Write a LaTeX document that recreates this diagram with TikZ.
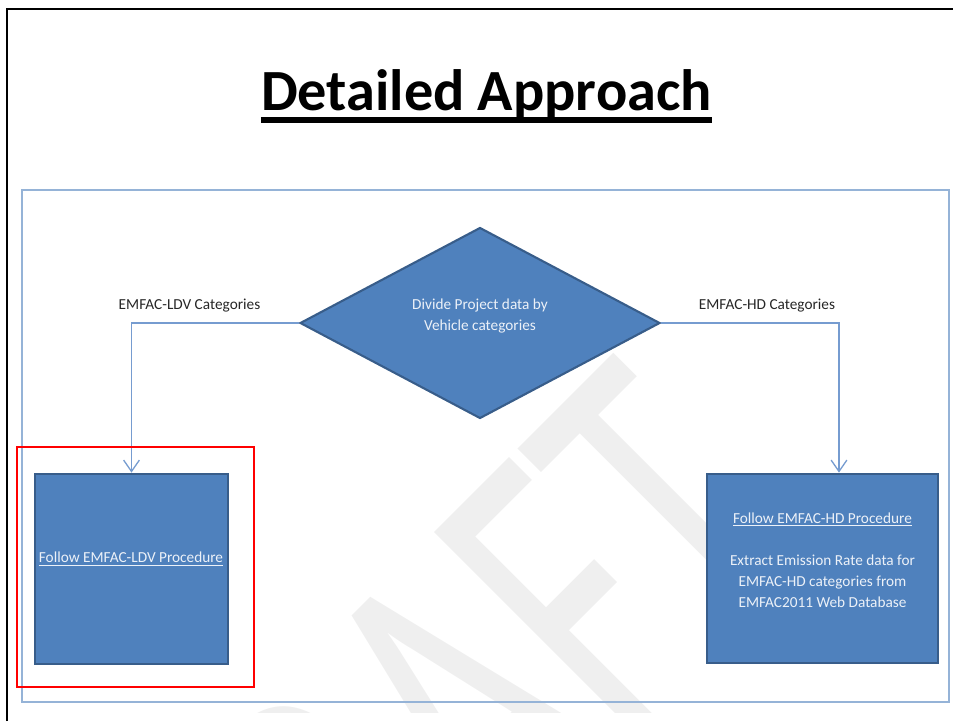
\documentclass[tikz,border=0pt]{standalone}
\usepackage{fontspec}
\setmainfont{Carlito}
\usepackage{tikz}
\usetikzlibrary{shapes.geometric,arrows.meta}

\definecolor{boxblue}{RGB}{79,129,189}
\definecolor{boxedge}{RGB}{56,93,138}
\definecolor{frameblue}{RGB}{149,179,215}
\definecolor{linkblue}{RGB}{118,156,208}
\definecolor{markgray}{RGB}{239,239,239}
\definecolor{paletext}{RGB}{236,241,248}

\begin{document}
\begin{tikzpicture}[x=0.02cm, y=-0.02cm,
            stepbox/.style={draw=boxedge, line width=1.6pt, fill=boxblue, inner sep=0},
            link/.style={draw=linkblue, line width=0.75pt, -{Straight Barb[length=6.5pt, width=9pt]}},
            boxtext/.style={text=paletext, font=\fontsize{8.7}{12}\selectfont, align=center},
            cattext/.style={text=black!85, font=\fontsize{8.7}{12}\selectfont}]
            \useasboundingbox (0, 0) rectangle (953, 721);

            \begin{scope}
                \clip (0, 0) rectangle (953, 712);
                \node[text=markgray, font=\fontsize{256}{256}\selectfont, anchor=base, rotate=45, xscale=0.65, inner sep=0] (draft) at (543, 832) {DRAFT};
            \end{scope}

            \draw[black, line width=1.7pt] (7, 721) -- (7, 9) -- (953, 9);

            \node[font=\fontsize{33.2}{40}\selectfont\bfseries, anchor=base, inner sep=0] (title) at (486.5, 110) {Detailed Approach};
            \draw[black, line width=3.3pt] ([yshift=-0.2cm]title.base west) -- ([yshift=-0.2cm]title.base east);

            \draw[frameblue, line width=0.9pt] (22, 190) rectangle (949, 702);

            \node[diamond, draw=boxedge, line width=1.2pt, fill=boxblue, inner sep=0, minimum width=7.2cm, minimum height=3.82cm] (divide) at (480, 323) {};
            \node[boxtext] (dividetext) at (480, 316) {Divide Project data by\\Vehicle categories};

            \node[stepbox, minimum width=3.86cm, minimum height=3.8cm] (ldv) at (131.5, 569) {};
            \node[stepbox, minimum width=4.62cm, minimum height=3.78cm] (hd) at (822.5, 568.5) {};

            \node[boxtext] (ldvtext) at (131, 559) {\underline{Follow EMFAC-LDV Procedure}};
            \node[boxtext] (hdtext) at (822.5, 560) {\underline{Follow EMFAC-HD Procedure}\\[12pt]Extract Emission Rate data for\\EMFAC-HD categories from\\EMFAC2011 Web Database};

            \node[cattext] (ldvcat) at (189.5, 306) {EMFAC-LDV Categories};
            \node[cattext] (hdcat) at (767, 306) {EMFAC-HD Categories};

            \draw[link] (divide.west) -| (ldv.north);
            \draw[link] (divide.east) -| ([xshift=0.33cm]hd.north);

            \draw[red, line width=1.4pt] (17, 447) rectangle (254, 687);
\end{tikzpicture}
\end{document}
